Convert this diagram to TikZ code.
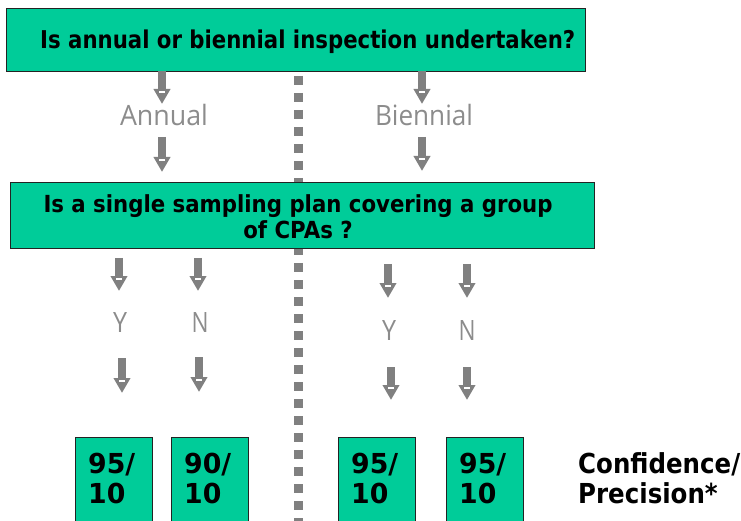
\documentclass[tikz,border=0pt]{standalone}
\usepackage{fontspec}
\usepackage{graphicx}
\setmainfont{DejaVu Sans}
\newfontfamily\labelfont{Open Sans}
\usetikzlibrary{arrows.meta,calc}

\definecolor{boxgreen}{RGB}{0,204,153}
\definecolor{arrowgray}{RGB}{128,128,128}
\definecolor{labelgray}{RGB}{140,140,140}
\definecolor{edgegray}{RGB}{35,35,35}

% stretch or squeeze text horizontally to a given width, height kept
\newcommand\fitw[2]{\resizebox{#1}{\height}{#2}}

\tikzset{
  qbox/.style={draw=edgegray, line width=1.3pt, fill=boxgreen, rectangle,
               inner sep=0pt, anchor=north west},
  qtext/.style={inner sep=0pt, text=black, font=\bfseries},
  glabel/.style={inner sep=0pt, text=labelgray, anchor=base,
                 font=\labelfont\fontsize{28}{30}\selectfont},
  flowarrow/.style={draw=arrowgray, line width=7.5pt,
                    -{Triangle[width=16pt,length=15pt,fill=arrowgray]}},
  divider/.style={draw=arrowgray, line width=9pt, dash pattern=on 9pt off 8pt},
}

% block arrow with the small light notch inside its head
\newcommand\flow[2]{%
  \draw[flowarrow] (#1) -- (#2);
  \draw[white, line width=1.6pt] ($(#2)+(-3,-12)$) -- ++(6,0);
}

\begin{document}
\begin{tikzpicture}[x=1pt, y=-1pt]
\useasboundingbox (0,0) rectangle (741,521);
\clip (0,0) rectangle (741,521);

% dotted divider between the annual and biennial branches
\coordinate (dtop) at (298,76);
\coordinate (dbot) at (298,530);
\draw[divider] (dtop) -- (dbot);

% question boxes
\node[qbox, minimum width=579pt, minimum height=63pt] (q1) at (6,8) {};
\node[qtext, anchor=base west, font=\bfseries\fontsize{24.5}{27}\selectfont] (q1t) at (40,49)
  {\fitw{535pt}{Is annual or biennial inspection undertaken?}};

\node[qbox, minimum width=584pt, minimum height=66pt] (q2) at (10,182) {};
\node[qtext, anchor=base, font=\bfseries\fontsize{23.5}{25}\selectfont] (q2t) at (298,213)
  {\fitw{509pt}{\begin{tabular}[t]{@{}c@{}}Is a single sampling plan covering a group\\of CPAs ?\end{tabular}}};

% frequency labels
\node[glabel] (ann) at (164,126) {\fitw{88pt}{Annual}};
\node[glabel] (bie) at (424,126) {\fitw{98pt}{Biennial}};

% Y / N labels
\node[glabel] (ly) at (120,332) {\fitw{14pt}{Y}};
\node[glabel] (ln) at (200,332) {\fitw{17pt}{N}};
\node[glabel] (ry) at (389,340) {\fitw{14pt}{Y}};
\node[glabel] (rn) at (467,340) {\fitw{17pt}{N}};

% result boxes
\node[qbox, minimum width=77pt, minimum height=100pt] (r1) at (75,437) {};
\node[qbox, minimum width=77pt, minimum height=100pt] (r2) at (171,437) {};
\node[qbox, minimum width=77pt, minimum height=100pt] (r3) at (338,437) {};
\node[qbox, minimum width=77pt, minimum height=100pt] (r4) at (446,437) {};

\tikzset{rtext/.style={qtext, anchor=base west, font=\bfseries\fontsize{27.5}{30}\selectfont}}
\node[rtext] (r1t) at (88,473)  {\fitw{47pt}{\begin{tabular}[t]{@{}l@{}}95/\\10\end{tabular}}};
\node[rtext] (r2t) at (184,473) {\fitw{47pt}{\begin{tabular}[t]{@{}l@{}}90/\\10\end{tabular}}};
\node[rtext] (r3t) at (351,473) {\fitw{47pt}{\begin{tabular}[t]{@{}l@{}}95/\\10\end{tabular}}};
\node[rtext] (r4t) at (459,473) {\fitw{47pt}{\begin{tabular}[t]{@{}l@{}}95/\\10\end{tabular}}};

\node[rtext] (cp) at (578,473)
  {\fitw{162pt}{\begin{tabular}[t]{@{}l@{}}Confidence/\\Precision*\end{tabular}}};

% arrow end points
\coordinate (a1s) at (162,71);  \coordinate (a1e) at (162,104);
\coordinate (a2s) at (162,137); \coordinate (a2e) at (162,172);
\coordinate (b1s) at (422,71);  \coordinate (b1e) at (422,104);
\coordinate (b2s) at (422,137); \coordinate (b2e) at (422,171);

\coordinate (ly1s) at (119,258); \coordinate (ly1e) at (119,291);
\coordinate (ln1s) at (198,258); \coordinate (ln1e) at (198,291);
\coordinate (ly2s) at (122,358); \coordinate (ly2e) at (122,393);
\coordinate (ln2s) at (199,357); \coordinate (ln2e) at (199,392);

\coordinate (ry1s) at (388,264); \coordinate (ry1e) at (388,298);
\coordinate (rn1s) at (467,264); \coordinate (rn1e) at (467,298);
\coordinate (ry2s) at (391,367); \coordinate (ry2e) at (391,400);
\coordinate (rn2s) at (467,367); \coordinate (rn2e) at (467,400);

\flow{a1s}{a1e} \flow{a2s}{a2e}
\flow{b1s}{b1e} \flow{b2s}{b2e}
\flow{ly1s}{ly1e} \flow{ln1s}{ln1e}
\flow{ly2s}{ly2e} \flow{ln2s}{ln2e}
\flow{ry1s}{ry1e} \flow{rn1s}{rn1e}
\flow{ry2s}{ry2e} \flow{rn2s}{rn2e}
\end{tikzpicture}
\end{document}
